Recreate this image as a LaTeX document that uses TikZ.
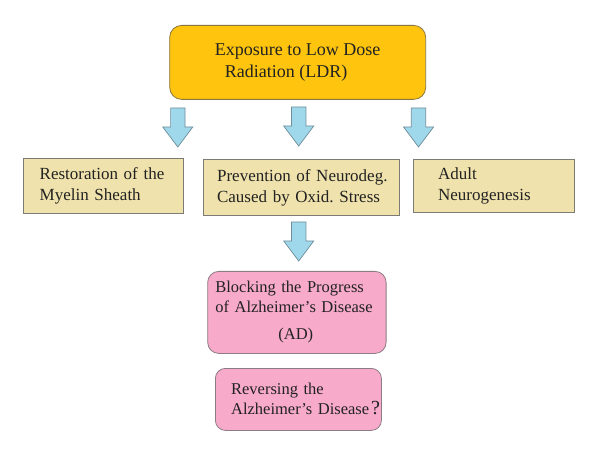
\documentclass[tikz,border=0pt]{standalone}
\usepackage{fontspec}
\setmainfont{Liberation Serif}
\hyphenpenalty=10000
\exhyphenpenalty=10000
\frenchspacing

\definecolor{ldrgold}{HTML}{FFC40D}
\definecolor{ldredge}{HTML}{8A7640}
\definecolor{effectfill}{HTML}{EFE2AC}
\definecolor{effectedge}{HTML}{7C7C74}
\definecolor{adfill}{HTML}{F8AACB}
\definecolor{adedge}{HTML}{8C7C84}
\definecolor{arrowfill}{HTML}{9FD8EA}
\definecolor{arrowedge}{HTML}{6F8E9A}
\definecolor{textgray}{HTML}{222222}

\begin{document}
\begin{tikzpicture}[x=1pt, y=-1pt, line width=0.8pt,
  effect/.style={draw=effectedge, fill=effectfill, anchor=north west, align=left, text=textgray, font=\fontsize{17}{21}\selectfont},
  ad/.style={draw=adedge, fill=adfill, rounded corners=11pt, anchor=north west, align=left, text=textgray, font=\fontsize{16.5}{20}\selectfont},
  blockarrow/.pic={\draw[draw=arrowedge, fill=arrowfill, line width=0.7pt] (-7.2,0)--(-7.2,19)--(-15,19)--(0,39)--(15,19)--(7.2,19)--(7.2,0)--cycle;}]

\fill[white] (0,0) rectangle (600,449);
\useasboundingbox (0,0) rectangle (600,449);

\node[draw=ldredge, fill=ldrgold, rounded corners=12pt, anchor=north west, minimum width=256pt, minimum height=74pt, align=left, text=textgray, font=\fontsize{18}{22}\selectfont] (ldr) at (169.3,25) {Exposure to Low Dose\\\hspace*{10pt}Radiation (LDR)};

\node[effect, text width=127.4pt, inner xsep=16.6pt, minimum height=55pt] (myelin) at (22.7,158.3) {Restoration~of~the\\Myelin Sheath};
\node[effect, text width=169pt, inner xsep=13.4pt, minimum height=56pt] (oxid) at (203.3,159) {Prevention~of~Neurodeg.\\Caused~by~Oxid.~Stress};
\node[effect, text width=111pt, inner xsep=25pt, minimum height=53pt] (neuro) at (412.7,159) {Adult\\Neurogenesis};

\pic at (177.8,108) {blockarrow};
\pic at (298.7,107) {blockarrow};
\pic at (418.5,108) {blockarrow};

\node[ad, text width=163pt, inner xsep=7.7pt, minimum height=82pt] (block) at (207.3,271) {Blocking~the~Progress\\of~Alzheimer's~Disease\\[7pt]\hspace*{63pt}(AD)};
\pic at (298.7,222) {blockarrow};

\node[ad, rounded corners=10pt, text width=134.6pt, inner xsep=15.7pt, minimum height=62pt] (reverse) at (215,368) {Reversing~the\\Alzheimer's~Disease\kern2pt{\fontsize{20}{20}\selectfont ?}};

\end{tikzpicture}
\end{document}
